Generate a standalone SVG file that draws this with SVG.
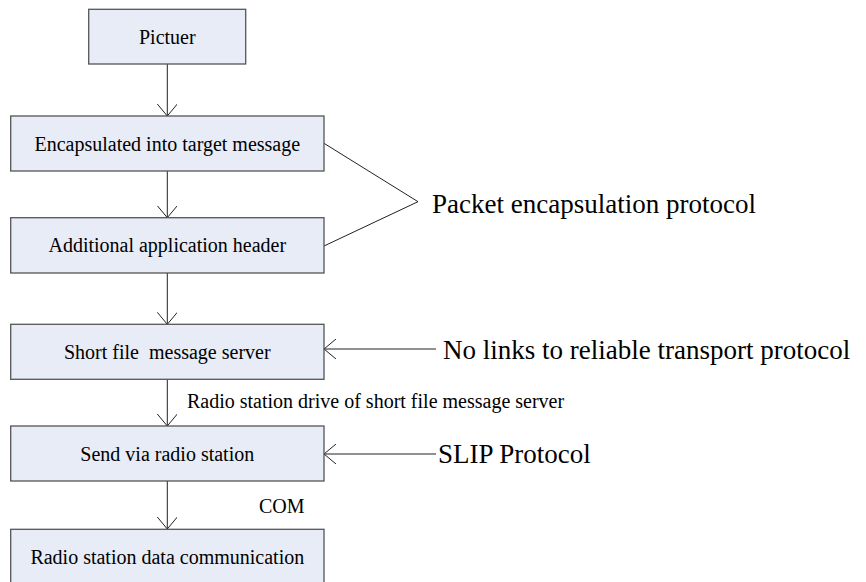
<svg xmlns="http://www.w3.org/2000/svg" width="866" height="582" viewBox="0 0 866 582">
<style>
.box{fill:#E7ECF6;stroke:#555;stroke-width:1.3}
text{font-family:'Liberation Serif','Times New Roman',Times,'DejaVu Serif',serif;fill:#000}
.t{font-size:20px;text-anchor:middle}
.s{font-size:20px}
.big{font-size:27px}
.c{fill:none;stroke:#222;stroke-width:1}
</style>
<defs>
<marker id="ah" viewBox="0 0 12 20" refX="12" refY="10" markerWidth="12" markerHeight="20" markerUnits="userSpaceOnUse" orient="auto">
<path d="M0,0 L12,10 L0,20" fill="none" stroke="#222" stroke-width="1"/>
</marker>
</defs>
<rect width="866" height="582" fill="#fff"/>
<g id="connectors">
<line class="c" x1="167.3" y1="64" x2="167.3" y2="116" marker-end="url(#ah)"/>
<line class="c" x1="167.3" y1="171" x2="167.3" y2="217.7" marker-end="url(#ah)"/>
<line class="c" x1="167.3" y1="273" x2="167.3" y2="324.3" marker-end="url(#ah)"/>
<line class="c" x1="167.3" y1="379.3" x2="167.3" y2="426" marker-end="url(#ah)"/>
<line class="c" x1="167.3" y1="481" x2="167.3" y2="529" marker-end="url(#ah)"/>
<polyline class="c" points="324,143.3 418,201.7 324,246"/>
<line class="c" x1="436" y1="349" x2="324" y2="349" marker-end="url(#ah)"/>
<line class="c" x1="436" y1="454" x2="324" y2="454" marker-end="url(#ah)"/>
</g>
<g id="n1"><rect class="box" x="88.7" y="9.3" width="157" height="54.7"/><text class="t" x="167.3" y="43.5" font-family="Liberation Serif">Pictuer</text></g>
<g id="n2"><rect class="box" x="10.7" y="116" width="313.3" height="55"/><text class="t" x="167.3" y="150.5">Encapsulated into target message</text></g>
<g id="n3"><rect class="box" x="10.7" y="217.7" width="313.3" height="55.3"/><text class="t" x="167.3" y="252.3">Additional application header</text></g>
<g id="n4"><rect class="box" x="10.7" y="324.3" width="313.3" height="55"/><text class="t" x="167.3" y="358.8" xml:space="preserve">Short file  message server</text></g>
<g id="n5"><rect class="box" x="10.7" y="426" width="313.3" height="55"/><text class="t" x="167.3" y="460.5">Send via radio station</text></g>
<g id="n6"><rect class="box" x="10.7" y="529.3" width="313.3" height="55"/><text class="t" x="167.3" y="563.5">Radio station data communication</text></g>
<g id="labels">
<text class="big" x="432" y="213.3">Packet encapsulation protocol</text>
<text class="big" x="443" y="359.3">No links to reliable transport protocol</text>
<text class="big" x="438" y="463">SLIP Protocol</text>
<text class="s" x="187" y="408.3">Radio station drive of short file message server</text>
<text class="s" x="259" y="513">COM</text>
</g>
</svg>
